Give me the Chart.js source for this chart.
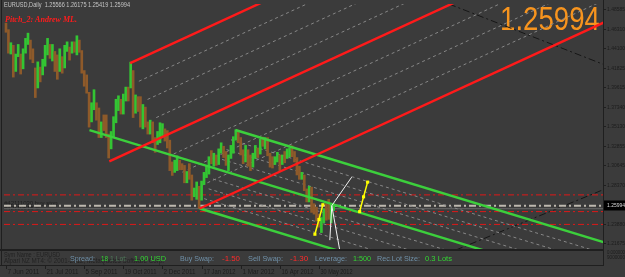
<!DOCTYPE html>
<html>
<head>
<meta charset="utf-8">
<script src="https://cdn.jsdelivr.net/npm/chart.js@4.4.1/dist/chart.umd.min.js"></script>
<style>
html, body { margin: 0; padding: 0; background: #3b3b3b; }
#wrap { position: relative; width: 625px; height: 277px; }
</style>
</head>
<body>
<div id="wrap"><canvas id="chart"></canvas></div>
<script>
// EURUSD daily, one bar per 2 trading days starting 7 Jun 2011
var barLow = [1.4590,1.4350,1.4340,1.4075,1.4140,1.4310,1.4110,1.4170,1.4350,1.4450,
  1.4280,1.4240,1.3840,1.3950,1.4020,1.4100,1.4200,1.4330,1.4290,1.4260,
  1.4140,1.4050,1.4140,1.4120,1.4180,1.4370,1.4270,1.4350,1.4360,1.4330,
  1.4360,1.4120,1.3970,1.3890,1.3500,1.3560,1.3700,1.3580,1.3380,1.3380,
  1.3460,1.3380,1.3145,1.3250,1.3380,1.3550,1.3690,1.3650,1.3650,1.3800,
  1.3800,1.3950,1.3610,1.3660,1.3680,1.3500,1.3480,1.3500,1.3420,1.3420,
  1.3320,1.3210,1.3300,1.3320,1.3390,1.3340,1.3260,1.3000,1.2945,1.2980,
  1.3000,1.3010,1.3010,1.2860,1.2860,1.2900,1.2660,1.2700,1.2670,1.2565,
  1.2660,1.2840,1.2920,1.2960,1.3080,1.3050,1.3060,1.3070,1.3200,1.3150,
  1.3060,1.3000,1.3140,1.3200,1.3350,1.3320,1.3180,1.3080,1.3100,1.3050,
  1.3000,1.3040,1.3140,1.3150,1.3190,1.3280,1.3250,1.3170,1.3040,1.3030,
  1.3070,1.3100,1.3000,1.3070,1.3090,1.3140,1.3160,1.3160,1.3100,1.2950,
  1.2900,1.2900,1.2770,1.2640,1.2640,1.2520,1.2500,1.2420,1.2350,1.2288,
  1.2400,1.2430,1.2440,1.2400,1.2542];
var barHigh = [1.4695,1.4620,1.4470,1.4440,1.4340,1.4450,1.4340,1.4400,1.4520,1.4580,
  1.4500,1.4400,1.4180,1.4250,1.4190,1.4280,1.4440,1.4520,1.4450,1.4450,
  1.4370,1.4330,1.4400,1.4310,1.4440,1.4480,1.4420,1.4480,1.4480,1.4550,
  1.4500,1.4380,1.4150,1.4100,1.3900,1.3780,1.3930,1.3780,1.3720,1.3560,
  1.3640,1.3640,1.3420,1.3450,1.3620,1.3820,1.3860,1.3820,1.3880,1.3960,
  1.3960,1.4247,1.4150,1.3870,1.3850,1.3850,1.3760,1.3730,1.3560,1.3580,
  1.3560,1.3380,1.3450,1.3550,1.3540,1.3480,1.3460,1.3350,1.3100,1.3120,
  1.3170,1.3120,1.3080,1.3060,1.2990,1.3080,1.2950,1.2800,1.2870,1.2820,
  1.2880,1.2980,1.3060,1.3160,1.3230,1.3200,1.3180,1.3250,1.3320,1.3280,
  1.3220,1.3180,1.3290,1.3390,1.3470,1.3460,1.3380,1.3240,1.3290,1.3240,
  1.3180,1.3200,1.3290,1.3260,1.3360,1.3385,1.3380,1.3380,1.3200,1.3160,
  1.3160,1.3210,1.3180,1.3180,1.3220,1.3250,1.3260,1.3285,1.3220,1.3150,
  1.3050,1.2980,1.2950,1.2790,1.2820,1.2810,1.2620,1.2580,1.2500,1.2460,
  1.2560,1.2620,1.2670,1.2600,1.2618];
var barDir = ['d','d','u','d','u','u','d','u','u','u','d','d','d','u','d','u','u','u','d','u',
  'd','d','u','d','u','u','d','u','d','u','d','d','d','d','d','u','u','d','d','u',
  'd','d','d','u','u','u','u','d','u','u','d','u','d','u','d','d','u','d','d','u',
  'd','d','u','u','u','d','d','d','d','u','u','d','d','d','u','d','d','u','u','d',
  'u','u','u','u','d','u','d','u','u','d','d','u','u','u','u','d','d','d','u','d',
  'd','u','u','d','u','d','u','d','d','d','u','u','d','u','d','u','u','d','d','d',
  'd','u','d','d','u','d','d','d','d','u','u','d','d','u','u'];

// x axis: trading-day index, tick every 32 days
var dateTickDays = [0, 32, 64, 96, 128, 160, 192, 224, 256];
var dateTickLabels = ['7 Jun 2011', '21 Jul 2011', '5 Sep 2011', '19 Oct 2011', '2 Dec 2011',
  '17 Jan 2012', '1 Mar 2012', '16 Apr 2012', '30 May 2012'];
var priceTicks = ['1.48585', '1.46310', '1.44100', '1.41825', '1.39615', '1.37340', '1.35130',
  '1.32855', '1.30645', '1.28370', '1.23880', '1.21675'];

// pitchfork pivots [day, price]
var redA = [84.5, 1.3106], redB = [101.6, 1.4236], redC = [158.5, 1.2565];
var greenA = [68.3, 1.3465], greenB = [187.7, 1.3467], greenC = [158.5, 1.2565];
var forkLevels = [0.25, 0.5, 0.75];

// dark dash-dot guide lines [startDay, startPrice, endDay, endPrice]
var guideLines = [
  [362.4, 1.4915, 490.0, 1.4214],
  [368.1, 1.2088, 490.0, 1.2789]
];

// order lines
var orderLevels = [1.2721, 1.2529, 1.2382];
var buyStop = 1.2597, stopLoss = 1.2562;

// yellow swing marks and white fan
var yellow1Day = [252.7, 256.0, 259.2], yellow1Price = [1.2269, 1.2438, 1.2608];
var yellow2Day = [289.3, 292.5, 295.8], yellow2Price = [1.2529, 1.2699, 1.2868];
var fanOrigin = [266.5, 1.2597];
var fanEndDay = [282.8, 264.9, 273.0], fanEndPrice = [1.2925, 1.2201, 1.2088];

var lastQuote = '1.25994';

var xMin = -1.625, xMax = 488.37, yMin = 1.20878, yMax = 1.4915;

var UP = '#33c533', DOWN = '#8e5a2a';
var RED = '#ff1a1a', GREEN = '#3ccf3c';

function seg(p, q, style) {
  return Object.assign({
    type: 'line', data: [{x: p[0], y: p[1]}, {x: q[0], y: q[1]}],
    pointRadius: 0, fill: false, tension: 0, clip: 0, order: 2
  }, style);
}

function forkSets(A, B, C, color) {
  var M = [(B[0] + C[0]) / 2, (B[1] + C[1]) / 2];
  var slope = (M[1] - A[1]) / (M[0] - A[0]);
  var end = xMax + 5;
  function ray(P, style) { return seg(P, [end, P[1] + slope * (end - P[0])], style); }
  var out = [];
  forkLevels.forEach(function (f) {
    [[B, M], [M, C]].forEach(function (pair) {
      var P = [pair[0][0] + (pair[1][0] - pair[0][0]) * f, pair[0][1] + (pair[1][1] - pair[0][1]) * f];
      out.push(ray(P, {borderColor: '#878787', borderWidth: 1, borderDash: [3, 3], order: 4}));
    });
  });
  [A, B, C].forEach(function (P) {
    out.push(ray(P, {borderColor: color, borderWidth: 2.4, order: 2}));
  });
  return out;
}

var datasets = [];

// candles
datasets.push({
  type: 'bar',
  data: barLow.map(function (lo, i) { return {x: i * 2, y: [lo, barHigh[i]]}; }),
  backgroundColor: barDir.map(function (d) { return d === 'u' ? UP : DOWN; }),
  barThickness: 2, borderWidth: 0, grouped: false, clip: 0, order: 3
});

// horizontal order lines
orderLevels.forEach(function (p) {
  datasets.push(seg([xMin, p], [xMax, p], {borderColor: '#e01818', borderWidth: 1, borderDash: [6, 3, 2, 3], order: 5}));
});
datasets.push(seg([xMin, buyStop], [xMax, buyStop], {borderColor: '#bdb8ae', borderWidth: 2, borderDash: [7, 3, 2, 3], order: 5}));
datasets.push(seg([xMin, stopLoss], [xMax, stopLoss], {borderColor: '#6a6a6a', borderWidth: 1, order: 5}));

guideLines.forEach(function (g) {
  datasets.push(seg([g[0], g[1]], [g[2], g[3]], {borderColor: '#161616', borderWidth: 1, borderDash: [7, 3, 2, 3], order: 5}));
});

datasets = datasets.concat(forkSets(redA, redB, redC, RED));
datasets = datasets.concat(forkSets(greenA, greenB, greenC, GREEN));

// white fan
fanEndDay.forEach(function (d, i) {
  datasets.push(seg(fanOrigin, [d, fanEndPrice[i]], {borderColor: '#f2f2f2', borderWidth: 1, order: 1}));
});

// yellow swings
[[yellow1Day, yellow1Price], [yellow2Day, yellow2Price]].forEach(function (s) {
  datasets.push({
    type: 'line',
    data: s[0].map(function (d, i) { return {x: d, y: s[1][i]}; }),
    borderColor: '#ffff00', borderWidth: 1.5, pointStyle: 'rect', pointRadius: 2.2,
    pointBackgroundColor: '#ffff00', pointBorderWidth: 0, tension: 0, clip: 0, order: 0
  });
});

function txt(ctx, s, x, y, font, color, maxW, align) {
  ctx.font = font;
  ctx.fillStyle = color;
  ctx.textAlign = align || 'left';
  ctx.textBaseline = 'middle';
  if (maxW && ctx.measureText(s).width > maxW) ctx.fillText(s, x, y, maxW);
  else ctx.fillText(s, x, y);
}

var decor = {
  id: 'decor',
  beforeDraw: function (chart) {
    var ctx = chart.ctx;
    ctx.save();
    ctx.fillStyle = '#3b3b3b';
    ctx.fillRect(0, 0, chart.width, chart.height);
    ctx.restore();
  },
  beforeDatasetsDraw: function (chart) {
    var ctx = chart.ctx;
    ctx.save();
    txt(ctx, 'EURUSD,Daily  1.25566 1.26175 1.25419 1.25994', 4, 5, '7px "Liberation Sans"', '#c4c4c4', 126);
    txt(ctx, 'Pitch_2: Andrew ML.', 5, 19.5, 'italic bold 9px "Liberation Serif"', '#ff1c1c', 72);
    txt(ctx, lastQuote, 500, 21, '33px "Liberation Sans"', '#f7941e', 100);
    txt(ctx, '#42111030 buy stop', 4, 203, '6px "Liberation Sans"', '#1e1e1e', 56);
    txt(ctx, '#42110515 sl', 4, 208.5, '6px "Liberation Sans"', '#1e1e1e', 40);
    ctx.restore();
  },
  afterDraw: function (chart) {
    var ctx = chart.ctx, xs = chart.scales.x, ys = chart.scales.y;
    ctx.save();
    // frame
    ctx.strokeStyle = '#1f1f1f';
    ctx.lineWidth = 1;
    ctx.beginPath();
    ctx.moveTo(1.5, 0); ctx.lineTo(1.5, 265);
    ctx.moveTo(603.5, 0); ctx.lineTo(603.5, 265);
    ctx.moveTo(0, 265.5); ctx.lineTo(604, 265.5);
    ctx.stroke();
    ctx.lineWidth = 2;
    ctx.beginPath();
    ctx.moveTo(0, 250); ctx.lineTo(604, 250);
    ctx.stroke();

    // price axis
    ctx.lineWidth = 1;
    priceTicks.forEach(function (s) {
      var y = Math.round(ys.getPixelForValue(parseFloat(s))) + 0.5;
      ctx.strokeStyle = '#1f1f1f';
      ctx.beginPath(); ctx.moveTo(603, y); ctx.lineTo(606, y); ctx.stroke();
      txt(ctx, s, 607, y, '6px "Liberation Sans"', '#1c1c1c', 18);
    });
    var py = ys.getPixelForValue(parseFloat(lastQuote));
    ctx.fillStyle = '#000000';
    ctx.fillRect(604, py - 5, 21, 10);
    txt(ctx, lastQuote, 607, py, '6px "Liberation Sans"', '#d8d8d8', 18);
    txt(ctx, '0.000000', 607, 252, '6px "Liberation Sans"', '#1c1c1c', 18);
    txt(ctx, '9000000', 607, 257, '6px "Liberation Sans"', '#1c1c1c', 18);

    // date axis
    dateTickDays.forEach(function (d, i) {
      var x = Math.round(xs.getPixelForValue(d)) + 0.5;
      ctx.strokeStyle = '#1f1f1f';
      ctx.beginPath(); ctx.moveTo(x, 266); ctx.lineTo(x, 269); ctx.stroke();
      txt(ctx, dateTickLabels[i], x + 1, 272, '7px "Liberation Sans"', '#1c1c1c', 32);
    });

    // info panel
    txt(ctx, 'Sym Name : EURUSD', 4, 255.5, '7px "Liberation Sans"', '#222222', 56);
    txt(ctx, 'Alpari NZ MT4: \u00a9 2001-2012, MetaQuotes Software Corp.', 4, 261.5, '7px "Liberation Sans"', '#222222', 160);
    var LBL = '#6f90a8', GOOD = '#33d633', BAD = '#ff2a2a';
    var info = [
      ['Spread:', 70, LBL, 25], ['18', 101, GOOD, 7], ['1 Lot:', 110, '#4f7a5a', 17],
      ['1.00 USD', 134, GOOD, 32], ['Buy Swap:', 180, LBL, 34], ['-1.50', 222, BAD, 18],
      ['Sell Swap:', 248, LBL, 35], ['-1.30', 290, BAD, 20], ['Leverage:', 315, LBL, 32],
      ['1:500', 353, GOOD, 18], ['Rec.Lot Size:', 377, LBL, 43], ['0.3 Lots', 425, GOOD, 27]
    ];
    info.forEach(function (t) { txt(ctx, t[0], t[1], 258.5, '8px "Liberation Sans"', t[2], t[3]); });
    ctx.restore();
  }
};

new Chart(document.getElementById('chart'), {
  type: 'bar',
  data: {datasets: datasets},
  options: {
    responsive: true,
    maintainAspectRatio: false,
    animation: false,
    events: [],
    layout: {padding: {left: 0, right: 22, top: 0, bottom: 27}},
    plugins: {legend: {display: false}, tooltip: {enabled: false}},
    scales: {
      x: {type: 'linear', min: xMin, max: xMax, offset: false, display: false},
      y: {type: 'linear', min: yMin, max: yMax, display: false}
    }
  },
  plugins: [decor]
});
</script>
</body>
</html>
